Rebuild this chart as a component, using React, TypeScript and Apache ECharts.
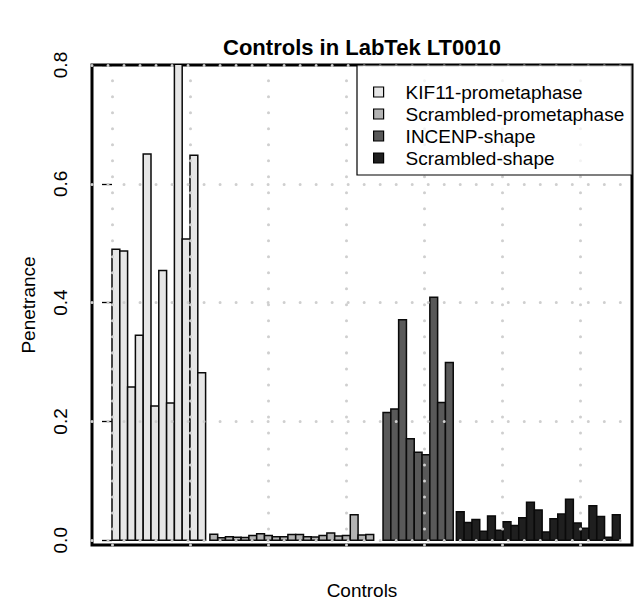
import React, { useEffect, useRef } from 'react';
import * as echarts from 'echarts';

// ---- data ----
const groupNames = ['KIF11-prometaphase', 'Scrambled-prometaphase', 'INCENP-shape', 'Scrambled-shape'];
const kif11 = [0.49, 0.487, 0.258, 0.345, 0.65, 0.226, 0.454, 0.231, 0.83, 0.507, 0.648, 0.282];
const scrambledPro = [0.01, 0.004, 0.006, 0.005, 0.0045, 0.008, 0.011, 0.008, 0.006, 0.006, 0.0095, 0.0095, 0.006, 0.0055, 0.008, 0.012, 0.007, 0.008, 0.043, 0.009, 0.0095];
const incenp = [0.215, 0.221, 0.371, 0.171, 0.148, 0.144, 0.409, 0.232, 0.299];
const scrambledShape = [0.048, 0.03, 0.035, 0.015, 0.041, 0.017, 0.031, 0.025, 0.038, 0.064, 0.051, 0.014, 0.036, 0.044, 0.069, 0.029, 0.02, 0.058, 0.04, 0.005, 0.043];
const yTicks = [0, 0.2, 0.4, 0.6, 0.8];
const xGridTicks = [0, 10, 20, 30, 40, 50, 60];

// ---- layout / style ----
const W = 643;
const H = 601;
const GRID = { left: 92, right: 11, top: 65, bottom: 56 };
const X_MIN = -2.564;
const X_MAX = 66.67;
const Y_MIN = -0.008;
const Y_MAX = 0.8;
const groupStarts = [0, 12.55, 34.75, 44.15];
const colors = ['#e6e6e6', '#b3b3b3', '#595959', '#1f1f1f'];
const FONT = '"Liberation Sans", Arial, Helvetica, sans-serif';
const FS = 19;

export default function App() {
  const ref = useRef<HTMLDivElement>(null);
  useEffect(() => {
    const chart = echarts.init(ref.current as HTMLDivElement, null, { renderer: 'svg' });
    const groups = [kif11, scrambledPro, incenp, scrambledShape];
    const series: any[] = groups.map((vals, g) => ({
      name: groupNames[g],
      type: 'custom',
      coordinateSystem: 'cartesian2d',
      clip: true,
      silent: true,
      z: 2,
      itemStyle: { color: colors[g], borderColor: '#000', borderWidth: 1.2 },
      encode: { x: 0, y: 1 },
      data: vals.map((v, i) => [groupStarts[g] + i + 0.5, v]),
      renderItem: (params: any, api: any) => {
        const x = api.value(0) as number;
        const v = api.value(1) as number;
        const p0 = api.coord([x - 0.5, 0]);
        const p1 = api.coord([x + 0.5, v]);
        return {
          type: 'rect',
          shape: { x: p0[0], y: p1[1], width: p1[0] - p0[0], height: p0[1] - p1[1] },
          style: { fill: colors[g], stroke: '#0a0a0a', lineWidth: 1.5 },
        };
      },
    }));
    series.push({
      name: 'grid',
      type: 'line',
      data: [],
      silent: true,
      z: 3,
      markLine: {
        silent: true,
        symbol: ['none', 'none'],
        label: { show: false },
        z: 5,
        lineStyle: { color: '#cfcfcf', type: [0.01, 16], width: 3, cap: 'round' },
        data: [
          ...xGridTicks.map((v) => ({ xAxis: v })),
          ...yTicks.map((v) => ({ yAxis: v })),
        ],
      },
    });

    chart.setOption({
      animation: false,
      backgroundColor: '#ffffff',
      textStyle: { fontFamily: FONT },
      title: {
        text: 'Controls in LabTek LT0010',
        left: (GRID.left + W - GRID.right) / 2,
        textAlign: 'center',
        top: 36,
        padding: 0,
        textStyle: { fontSize: 22, fontWeight: 'bold', color: '#000', fontFamily: FONT },
      },
      legend: {
        data: groupNames,
        orient: 'vertical',
        left: 357,
        top: GRID.top,
        icon: 'rect',
        itemWidth: 10,
        itemHeight: 10,
        itemGap: 0,
        padding: [16, 8, 6, 16],
        backgroundColor: 'rgba(255,255,255,0.75)',
        borderColor: '#000',
        borderWidth: 1.2,
        borderRadius: 0,
        selectedMode: false,
        itemStyle: { borderColor: '#000', borderWidth: 1.2 },
        textStyle: { fontSize: FS, lineHeight: 22, color: '#000', fontFamily: FONT, padding: [0, 0, 0, 17] },
        z: 10,
      },
      grid: {
        left: GRID.left,
        right: GRID.right,
        top: GRID.top,
        bottom: GRID.bottom,
        show: true,
        borderColor: '#000',
        borderWidth: 3,
        backgroundColor: 'transparent',
        containLabel: false,
        outerBoundsMode: 'none',
      },
      xAxis: {
        type: 'value',
        min: X_MIN,
        max: X_MAX,
        name: 'Controls',
        nameLocation: 'middle',
        nameGap: 36,
        nameTextStyle: { fontSize: FS, color: '#000', fontFamily: FONT },
        axisLine: { show: false },
        axisTick: { show: false },
        axisLabel: { show: false },
        splitLine: { show: false },
      },
      yAxis: {
        type: 'value',
        min: Y_MIN,
        max: Y_MAX,
        name: 'Penetrance',
        nameLocation: 'middle',
        nameRotate: 90,
        nameGap: 54,
        nameTextStyle: { fontSize: FS, color: '#000', fontFamily: FONT },
        axisLine: { show: false },
        axisTick: { show: true, customValues: yTicks, length: 10, lineStyle: { color: '#000', width: 1.3 } },
        axisLabel: {
          show: true,
          customValues: yTicks,
          rotate: 90,
          margin: 22,
          fontSize: FS,
          color: '#000',
          fontFamily: FONT,
          formatter: (v: number) => v.toFixed(1),
        },
        splitLine: { show: false },
      },
      series,
    });
    return () => chart.dispose();
  }, []);
  return <div ref={ref} style={{ position: 'absolute', left: 0, top: 0, width: W, height: H }} />;
}
